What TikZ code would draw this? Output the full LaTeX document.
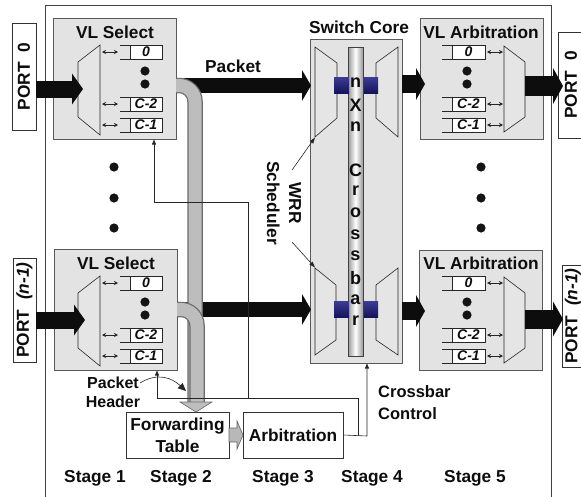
\documentclass[tikz,border=0pt]{standalone}
\usepackage{fontspec}
\setmainfont{Liberation Sans}
\usetikzlibrary{arrows.meta}
\newcommand\myq[6]{%
  \draw[thinl] (#4,{#5-7}) -- (#2,{#5-7}) (#2,{#5+7}) -- (#4,{#5+7});
  \draw[thinl, fill=white] (#3,{#5-7}) rectangle (#4,{#5+7});
  \node[qlab] (#1) at ({(#3+#4)/2},#5) {#6};}
\begin{document}
\begin{tikzpicture}[x=1pt,y=-1pt,
  lbl/.style={font=\bfseries\fontsize{17.3}{19}\selectfont, text=black!95, inner sep=0pt},
  qlab/.style={font=\bfseries\itshape\fontsize{14}{15}\selectfont, text=black!95, inner sep=0pt},
  blk/.style={draw=black!65, fill=black!11, line width=0.7pt, inner sep=0pt},
  wbox/.style={draw=black!80, fill=white, line width=0.7pt, inner sep=0pt},
  mux/.style={draw=black!85, fill=black!10, line width=0.6pt},
  thinl/.style={draw=black!85, line width=0.6pt},
  ctlarrow/.style={thinl, -{Triangle[length=5pt,width=4pt]}},
  darr/.style={thinl, {Stealth[length=4pt,width=4pt]}-{Stealth[length=4pt,width=4pt]}},
  dotc/.style={fill=black!92},
  pipeo/.style={draw=black!58, line width=15.5pt, rounded corners=16pt, line cap=butt},
  pipei/.style={draw=black!26, line width=13pt, rounded corners=16pt, line cap=butt}]
\useasboundingbox (0,0) rectangle (581,496);

% outer frame (its bottom edge lies below the page)
\draw[draw=black!75, line width=0.8pt] (45,5) rectangle (551,499);

% ports
\node[wbox, rotate=90, minimum width=107pt, minimum height=24pt, lbl] (pin0) at (24,76.5) {PORT~~0};
\node[wbox, rotate=90, minimum width=104pt, minimum height=23pt, lbl] (pinn) at (24.5,310) {PORT~~\textit{(n-1)}};
\node[wbox, rotate=90, minimum width=106pt, minimum height=26pt, lbl] (pout0) at (571,85) {PORT~~0};
\node[wbox, rotate=90, minimum width=102pt, minimum height=22pt, lbl] (poutn) at (573,316) {PORT~~\textit{(n-1)}};

% main blocks
\node[blk, minimum width=123pt, minimum height=121pt] (vls0) at (114.5,78.5) {};
\node[blk, minimum width=123pt, minimum height=121pt] (vlsn) at (115.5,309.5) {};
\node[blk, minimum width=123pt, minimum height=121pt] (vla0) at (481.5,78.5) {};
\node[blk, minimum width=123pt, minimum height=120pt] (vlan) at (480.5,310) {};
\node[blk, minimum width=92pt, minimum height=324pt] (core) at (356,201) {};
\node[wbox, minimum width=103pt, minimum height=46pt] (fwd) at (177.5,435) {};
\node[wbox, minimum width=100pt, minimum height=46pt] (arb) at (293,435) {};

% titles
\node[lbl] (t1) at (115,32) {VL Select};
\node[lbl] (t2) at (116,263) {VL Select};
\node[lbl] (t3) at (481,32) {VL Arbitration};
\node[lbl] (t4) at (481,263) {VL Arbitration};
\node[lbl] (t5) at (359,27) {Switch Core};
\node[lbl, align=center, font=\bfseries\fontsize{17.3}{22}\selectfont] (fwdt) at (177.5,435) {Forwarding\\Table};
\node[lbl] (arbt) at (293,435) {Arbitration};

% VL select muxes and queues
\foreach \o/\n in {0/a,231/b}{
  \draw[mux] (78,{62+\o}) -- (100,{45+\o}) -- (100,{135+\o}) -- (78,{117+\o}) -- cycle;
  \myq{qs0\n}{120}{130}{162}{52+\o}{0}
  \myq{qs2\n}{120}{130}{162}{104+\o}{C-2}
  \myq{qs1\n}{120}{130}{162}{125+\o}{C-1}
  \draw[darr] (102,{52+\o}) -- (118,{52+\o});
  \draw[darr] (102,{104+\o}) -- (118,{104+\o});
  \draw[darr] (102,{125+\o}) -- (118,{125+\o});
  \fill[dotc] (145,{71+\o}) circle[radius=4.6pt];
  \fill[dotc] (145,{84+\o}) circle[radius=4.6pt];
  % VL arbitration
  \draw[mux] (504,{46+\o}) -- (525,{62+\o}) -- (525,{117+\o}) -- (504,{132+\o}) -- cycle;
  \myq{qa0\n}{442}{452}{485}{52+\o}{0}
  \myq{qa2\n}{442}{452}{485}{104+\o}{C-2}
  \myq{qa1\n}{442}{452}{485}{125+\o}{C-1}
  \draw[darr] (487,{52+\o}) -- (503,{52+\o});
  \draw[darr] (487,{104+\o}) -- (503,{104+\o});
  \draw[darr] (487,{125+\o}) -- (503,{125+\o});
  \fill[dotc] (467,{71+\o}) circle[radius=4.6pt];
  \fill[dotc] (467,{84+\o}) circle[radius=4.6pt];
}

% vertical ellipsis dots
\foreach \yy in {167,198,228}{
  \fill[dotc] (114,\yy) circle[radius=4.6pt];
  \fill[dotc] (481,\yy) circle[radius=4.6pt];
}

% switch core internals
\draw[mux] (315,47) -- (337,63) -- (337,118) -- (315,137) -- cycle;
\draw[mux] (376,63) -- (398,47) -- (398,137) -- (376,118) -- cycle;
\draw[mux] (315,268) -- (336,285) -- (336,340) -- (315,355) -- cycle;
\draw[mux] (376,285) -- (398,268) -- (398,355) -- (376,340) -- cycle;
\shade[left color=black!40, right color=black!40, middle color=white, draw=black!75, line width=0.6pt] (348,47) rectangle (363,356);
\foreach \x/\w in {334/349,364/378}{
  \shade[top color={rgb,255:red,60;green,60;blue,150}, bottom color={rgb,255:red,20;green,20;blue,90}] (\x,77) rectangle (\w,93);
  \shade[top color={rgb,255:red,60;green,60;blue,150}, bottom color={rgb,255:red,20;green,20;blue,90}] (\x,301) rectangle (\w,317);
}
\foreach \ch/\yy [count=\i] in {n/83,X/105,n/127,C/170,r/191,o/213,s/235,s/256,b/278,a/300,r/321}
  \node[lbl, font=\bfseries\fontsize{18}{19}\selectfont] (cb\i) at (355.5,\yy) {\ch};

% named coordinates for fat arrows
\coordinate (i0s) at (36,89);   \coordinate (i0e) at (83,89);
\coordinate (ins) at (36,320);  \coordinate (ine) at (85,320);
\coordinate (pk0s) at (176,85.5); \coordinate (pk0e) at (311,85.5);
\coordinate (pkns) at (177,309.5); \coordinate (pkne) at (311,309.5);
\coordinate (a0s) at (402,84);  \coordinate (a0e) at (425,84);
\coordinate (ans) at (402,311); \coordinate (ane) at (425,311);
\coordinate (o0s) at (525,86);  \coordinate (o0e) at (563,86);
\coordinate (ons) at (525,319); \coordinate (one) at (563,319);

\draw[black!95, line width=17pt, -{Triangle[length=11pt 0, width=31pt 0, line width=0pt 0]}] (i0s) -- (i0e);
\draw[black!95, line width=17pt, -{Triangle[length=11pt 0, width=31pt 0, line width=0pt 0]}] (ins) -- (ine);
\draw[black!95, line width=15pt, -{Triangle[length=9pt 0, width=31pt 0, line width=0pt 0]}] (pk0s) -- (pk0e);
\draw[black!95, line width=15pt, -{Triangle[length=9pt 0, width=31pt 0, line width=0pt 0]}] (pkns) -- (pkne);
\draw[black!95, line width=18pt, -{Triangle[length=9pt 0, width=32pt 0, line width=0pt 0]}] (a0s) -- (a0e);
\draw[black!95, line width=18pt, -{Triangle[length=9pt 0, width=32pt 0, line width=0pt 0]}] (ans) -- (ane);
\draw[black!95, line width=20pt, -{Triangle[length=10pt 0, width=36pt 0, line width=0pt 0]}] (o0s) -- (o0e);
\draw[black!95, line width=19pt, -{Triangle[length=10pt 0, width=35pt 0, line width=0pt 0]}] (ons) -- (one);

% grey header pipes to the forwarding table
\draw[pipeo] (176,85.5) -- (195,85.5) -- (195,403);
\draw[pipei] (176,85.5) -- (195,85.5) -- (195,403);
\draw[pipeo] (177,309.5) -- (197,309.5) -- (197,403);
\draw[pipei] (177,309.5) -- (197,309.5) -- (197,403);
\filldraw[fill=black!26, draw=black!58, line width=0.6pt] (180,402) -- (212,402) -- (196,412) -- cycle;

% forwarding table -> arbitration
\filldraw[fill=black!28, draw=black!60, line width=0.6pt] (229,428) -- (237,428) -- (237,421) -- (243,435) -- (237,449) -- (237,442) -- (229,442) -- cycle;

% control lines
\coordinate (c1) at (367,436);
\draw[ctlarrow] (arb.east) -- (c1) -- (367,363.5);
\draw[thinl] (358,436) -- (358,398) -- (157,398);
\draw[ctlarrow] (157,398) -- (157,370.5);
\draw[ctlarrow] (248,398) -- (248,202) -- (154,202) -- (154,139.5);

% labels
\node[lbl] (pkt) at (233,66) {Packet};
\node[lbl, rotate=-90, align=center, font=\bfseries\fontsize{17.3}{22}\selectfont] (wrr) at (284,203) {WRR\\Scheduler};
\draw[thinl, -{Triangle[length=6pt,width=4pt]}] (292,170) -- (315,137.5);
\draw[thinl, -{Triangle[length=6pt,width=4pt]}] (292,242) -- (315,267.5);
\node[lbl, align=left, anchor=west, font=\bfseries\fontsize{16.5}{22}\selectfont] (cc) at (378,403) {Crossbar\\Control};
\node[lbl, align=center, font=\bfseries\fontsize{16}{19}\selectfont] (ph) at (113,392) {Packet\\Header};
\coordinate (phs) at (140,383);
\coordinate (phe) at (186,391);
\draw[thinl, -{Triangle[length=8pt,width=7pt]}] (phs) .. controls (158,372) and (172,378) .. (phe);

% stages
\node[lbl] (s1) at (95,478) {Stage 1};
\node[lbl] (s2) at (181,478) {Stage 2};
\node[lbl] (s3) at (283,478) {Stage 3};
\node[lbl] (s4) at (372,478) {Stage 4};
\node[lbl] (s5) at (475,478) {Stage 5};
\end{tikzpicture}
\end{document}
